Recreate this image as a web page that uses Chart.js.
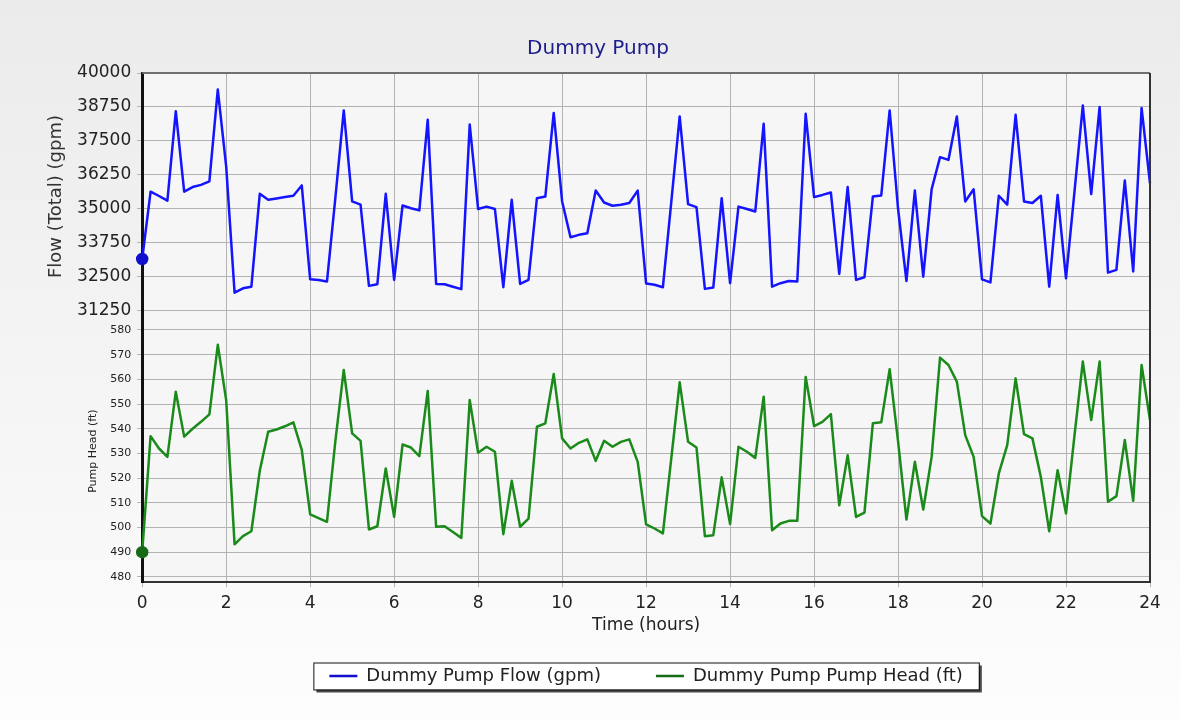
<!DOCTYPE html>
<html>
<head>
<meta charset="utf-8">
<title>Dummy Pump</title>
<script src="https://cdn.jsdelivr.net/npm/chart.js@4.4.1/dist/chart.umd.min.js"></script>
<style>
  html, body { margin: 0; padding: 0; background: #f4f4f4; }
  #wrap { width: 1180px; height: 721px; }
</style>
</head>
<body>
<div id="wrap"><canvas id="pumpChart"></canvas></div>
<script>
// time of each sample (hours)
const hours = [
  0, 0.2, 0.4, 0.6, 0.8, 1, 1.2, 1.4, 1.6, 1.8,
  2, 2.2, 2.4, 2.6, 2.8, 3, 3.2, 3.4, 3.6, 3.8,
  4, 4.2, 4.4, 4.6, 4.8, 5, 5.2, 5.4, 5.6, 5.8,
  6, 6.2, 6.4, 6.6, 6.8, 7, 7.2, 7.4, 7.6, 7.8,
  8, 8.2, 8.4, 8.6, 8.8, 9, 9.2, 9.4, 9.6, 9.8,
  10, 10.2, 10.4, 10.6, 10.8, 11, 11.2, 11.4, 11.6, 11.8,
  12, 12.2, 12.4, 12.6, 12.8, 13, 13.2, 13.4, 13.6, 13.8,
  14, 14.2, 14.4, 14.6, 14.8, 15, 15.2, 15.4, 15.6, 15.8,
  16, 16.2, 16.4, 16.6, 16.8, 17, 17.2, 17.4, 17.6, 17.8,
  18, 18.2, 18.4, 18.6, 18.8, 19, 19.2, 19.4, 19.6, 19.8,
  20, 20.2, 20.4, 20.6, 20.8, 21, 21.2, 21.4, 21.6, 21.8,
  22, 22.2, 22.4, 22.6, 22.8, 23, 23.2, 23.4, 23.6, 23.8,
  24
];

// Dummy Pump Flow (gpm)
const flowGpm = [
  33150, 35630, 35470, 35300, 38590, 35630, 35800, 35880, 36010, 39390,
  36560, 31910, 32070, 32130, 35550, 35330, 35380, 35430, 35480, 35860,
  32400, 32380, 32320, 35400, 38620, 35270, 35150, 32160, 32220, 35550,
  32380, 35120, 35020, 34940, 38280, 32230, 32220, 32130, 32040, 38100,
  34990, 35080, 34990, 32110, 35330, 32230, 32380, 35390, 35450, 38530,
  35270, 33950, 34040, 34100, 35670, 35230, 35110, 35150, 35210, 35670,
  32250, 32200, 32110, 35250, 38400, 35170, 35060, 32050, 32100, 35390,
  32260, 35080, 34990, 34900, 38130, 32130, 32260, 32340, 32320, 38500,
  35430, 35510, 35600, 32600, 35800, 32380, 32480, 35450, 35490, 38620,
  35000, 32340, 35670, 32500, 35720, 36900, 36800, 38400, 35270, 35720,
  32400, 32290, 35480, 35150, 38460, 35270, 35210, 35480, 32130, 35510,
  32440, 35600, 38800, 35540, 38750, 32650, 32750, 36040, 32690, 38710,
  35940
];

// Dummy Pump Pump Head (ft)
const headFt = [
  490, 537, 532, 528.6, 555, 536.8, 540, 542.8, 545.8, 574,
  551.6, 493.2, 496.5, 498.5, 523, 538.8, 539.7, 541, 542.6, 531.4,
  505.3, 503.8, 502.3, 535, 563.8, 538.1, 535.1, 499.2, 500.5, 523.9,
  504.3, 533.6, 532.4, 528.9, 555.3, 500.3, 500.5, 498.2, 495.8, 551.6,
  530.3, 532.7, 530.7, 497.3, 518.9, 500.3, 503.6, 540.8, 542.2, 562.2,
  536.1, 532, 534.3, 535.7, 527, 535.1, 532.7, 534.7, 535.7, 526.6,
  501.3, 499.6, 497.6, 528, 558.8, 534.7, 532.4, 496.5, 496.9, 520.3,
  501.4, 532.7, 530.7, 528.2, 553, 498.9, 501.6, 502.7, 502.7, 561,
  541.1, 542.8, 545.9, 509, 529.3, 504.3, 506, 542.2, 542.6, 564.1,
  535, 503.2, 526.6, 507.3, 528.6, 568.8, 565.8, 559.1, 537.4, 528.6,
  504.6, 501.6, 521.9, 533.4, 560.4, 537.8, 536.1, 520.5, 498.5, 523.2,
  505.7, 537, 567.2, 543.5, 567.2, 510.4, 512.7, 535.4, 510.8, 565.8,
  543.5
];

// tick labels
const hourTicks = [0, 2, 4, 6, 8, 10, 12, 14, 16, 18, 20, 22, 24];
const flowTicks = [31250, 32500, 33750, 35000, 36250, 37500, 38750, 40000];
const headTicks = [480, 490, 500, 510, 520, 530, 540, 550, 560, 570, 580];

const FONT = 'DejaVu Sans';
const GRID = '#b3b3b3';

// background, plot fill, legend frame, top/right border
const chartDecor = {
  id: 'chartDecor',
  afterLayout(chart) {
    const lg = chart.legend, a = chart.chartArea;
    const pad = lg.options.labels.padding;
    lg.left = a.left; lg.right = a.right; lg.width = a.right - a.left;
    const dy = 676 - (lg.top + pad + 9); // centre the legend row on the boxed strip
    lg.top += dy; lg.bottom += dy;
  },
  beforeDraw(chart) {
    const {ctx, width, height, chartArea: a} = chart;
    ctx.save();
    const g = ctx.createLinearGradient(0, 0, 0, height);
    g.addColorStop(0, '#ebebeb');
    g.addColorStop(1, '#fdfdfd');
    ctx.fillStyle = g;
    ctx.fillRect(0, 0, width, height);
    ctx.fillStyle = '#f6f6f6';
    ctx.fillRect(a.left, a.top, a.right - a.left, a.bottom - a.top);

    // legend frame with a small drop shadow
    const lg = chart.legend;
    const pad = lg.options.labels.padding;
    const cw = lg.lineWidths[0] - pad;
    const cx = (lg.left + lg.right) / 2;
    const x0 = cx - cw / 2 - 16, w = cw + 32;
    const y0 = lg.top + pad + 9 - 13.5, h = 27;
    ctx.fillStyle = '#4a4a4a';
    ctx.fillRect(x0 + 3, y0 + 3, w, h);
    ctx.fillStyle = '#ffffff';
    ctx.fillRect(x0, y0, w, h);
    ctx.strokeStyle = '#111';
    ctx.lineWidth = 1;
    ctx.strokeRect(x0 + 0.5, y0 + 0.5, w, h);
    ctx.restore();
  },
  afterDraw(chart) {
    const {ctx, chartArea: a} = chart;
    ctx.save();
    ctx.lineWidth = 2;
    ctx.strokeStyle = '#6f6f6f';
    ctx.beginPath();
    ctx.moveTo(a.left, a.top);
    ctx.lineTo(a.right, a.top);
    ctx.stroke();
    ctx.strokeStyle = '#333';
    ctx.beginPath();
    ctx.moveTo(a.right, a.top);
    ctx.lineTo(a.right, a.bottom);
    ctx.stroke();
    ctx.restore();
  }
};

const firstPointOnly = r => ctx => (ctx.dataIndex === 0 ? r : 0);

new Chart(document.getElementById('pumpChart'), {
  type: 'line',
  data: {
    datasets: [{
      label: 'Dummy Pump Flow (gpm)',
      data: hours.map((t, i) => ({x: t, y: flowGpm[i]})),
      yAxisID: 'yFlow',
      borderColor: '#1414ff',
      backgroundColor: '#1414ff',
      pointBackgroundColor: '#0f0fcc',
      pointBorderColor: '#0f0fcc',
      borderWidth: 2.5,
      borderJoinStyle: 'round',
      pointRadius: firstPointOnly(5),
      tension: 0,
      clip: false
    }, {
      label: 'Dummy Pump Pump Head (ft)',
      data: hours.map((t, i) => ({x: t, y: headFt[i]})),
      yAxisID: 'yHead',
      borderColor: '#1a8a1a',
      backgroundColor: '#1a8a1a',
      pointBackgroundColor: '#176a17',
      pointBorderColor: '#176a17',
      borderWidth: 2.5,
      borderJoinStyle: 'round',
      pointRadius: firstPointOnly(5),
      tension: 0,
      clip: false
    }]
  },
  options: {
    responsive: true,
    maintainAspectRatio: false,
    animation: false,
    layout: {padding: {top: 27, right: 30, bottom: 2, left: 46}},
    scales: {
      x: {
        type: 'linear',
        min: 0,
        max: 24,
        afterBuildTicks: s => { s.ticks = hourTicks.map(v => ({value: v})); },
        ticks: {color: '#222', padding: 6, font: {family: FONT, size: 17}},
        grid: {color: GRID, tickLength: 5},
        border: {color: '#333', width: 2},
        title: {display: true, text: 'Time (hours)', color: '#222',
                padding: {top: -4, bottom: 0}, font: {family: FONT, size: 17}}
      },
      // the bottom panel is listed first so the flow panel ends up on top of the stack
      yHead: {
        type: 'linear',
        position: 'left',
        stack: 'pump',
        stackWeight: 262,
        min: 477.85,
        max: 584,
        afterBuildTicks: s => { s.ticks = headTicks.map(v => ({value: v})); },
        ticks: {color: '#222', padding: 6, font: {family: FONT, size: 11}, callback: v => String(v)},
        grid: {color: GRID, tickLength: 5},
        border: {color: '#111', width: 3},
        title: {display: true, text: 'Pump Head (ft)', color: '#222',
                padding: {top: 41, bottom: 4}, font: {family: FONT, size: 11}}
      },
      yFlow: {
        type: 'linear',
        position: 'left',
        stack: 'pump',
        stackWeight: 247,
        min: 30900,
        max: 40000,
        afterBuildTicks: s => { s.ticks = flowTicks.map(v => ({value: v})); },
        ticks: {color: '#222', padding: 6, font: {family: FONT, size: 17}, callback: v => String(v)},
        grid: {color: GRID, tickLength: 5},
        border: {color: '#111', width: 3},
        title: {display: true, text: 'Flow (Total) (gpm)', color: '#333',
                padding: {top: 0, bottom: 3}, font: {family: FONT, size: 18}}
      }
    },
    plugins: {
      title: {
        display: true,
        text: 'Dummy Pump',
        color: '#1c1c8c',
        padding: {top: 10, bottom: 12},
        font: {family: FONT, size: 20, weight: 'normal'}
      },
      legend: {
        position: 'bottom',
        labels: {
          usePointStyle: true,
          pointStyle: 'line',
          pointStyleWidth: 28,
          padding: 55,
          color: '#222',
          font: {family: FONT, size: 18}
        }
      },
      tooltip: {enabled: false}
    }
  },
  plugins: [chartDecor]
});
</script>
</body>
</html>
